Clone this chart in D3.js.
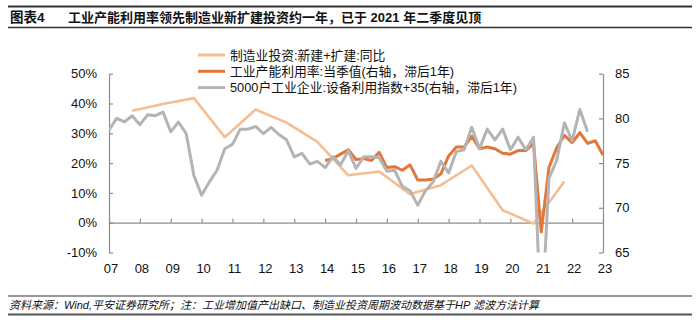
<!DOCTYPE html>
<html>
<head>
<meta charset="utf-8">
<script src="https://cdn.jsdelivr.net/npm/d3@7"></script>
<style>
  html, body { margin: 0; padding: 0; background: #fff; }
  svg { display: block; font-family: "Liberation Sans", Arial, "Noto Sans CJK SC", sans-serif; }
</style>
</head>
<body>
<div id="chart"></div>
<script>
// x轴刻度
var yearTicks = [2007, 2008, 2009, 2010, 2011, 2012, 2013, 2014, 2015, 2016, 2017, 2018, 2019, 2020, 2021, 2022, 2023]
var yearLabels = ['07', '08', '09', '10', '11', '12', '13', '14', '15', '16', '17', '18', '19', '20', '21', '22', '23']

// 制造业投资:新建+扩建:同比 (左轴, 年度)
var invDates = [2007.75, 2008.75, 2009.75, 2010.75, 2011.75, 2012.75, 2013.75, 2014.75, 2015.75, 2016.75, 2017.75, 2018.75, 2019.75, 2020.75, 2021.75]
var invValues = [37.6, 39.8, 41.8, 28.7, 38.0, 33.6, 27.1, 15.9, 17.2, 9.6, 12.6, 19.2, 4.2, -0.3, 13.8]

// 工业产能利用率:当季值 (右轴, 滞后1年, 季度, 从2014Q1开始)
var capStart = 2014
var capValues = [
  75.3, 75.5, 76.0, 76.5,
  75.4, 75.5, 75.3, 76.2,
  74.5, 74.6, 74.2, 74.8,
  73.1, 73.1, 73.2, 73.8,
  75.8, 76.8, 76.8, 78.0,
  76.6, 76.8, 76.6, 76.1,
  76.0, 76.4, 76.4, 77.2,
  67.3, 74.5, 76.7, 78.1,
  77.3, 78.4, 77.2, 77.5,
  75.9
]

// 5000户工业企业:设备利用指数+35 (右轴, 滞后1年, 季度, 从2007Q1开始)
var equipStart = 2007
var equipValues = [
  78.7, 80.0, 79.6, 80.3,
  79.3, 80.4, 80.3, 80.7,
  78.5, 79.6, 78.3, 73.6,
  71.4, 72.9, 74.2, 76.6,
  77.1, 78.8, 78.8, 79.1,
  78.3, 79.0, 78.2, 77.6,
  75.7, 76.1, 74.9, 75.2,
  74.5, 75.7, 74.8, 76.4,
  74.4, 75.7, 75.7, 75.6,
  74.1, 74.2, 72.4, 71.9,
  70.3, 71.9, 72.9, 75.2,
  73.9, 76.3, 76.5, 79.0,
  76.6, 78.8, 77.6, 78.8,
  76.5, 77.9, 76.5, 77.9,
  56.5, 73.3, 75.3, 79.5,
  77.5, 81.0, 78.5
]

var leftTicks = [-10, 0, 10, 20, 30, 40, 50]
var rightTicks = [65, 70, 75, 80, 85]

var seriesNames = ['制造业投资:新建+扩建:同比', '工业产能利用率:当季值(右轴，滞后1年)', '5000户工业企业:设备利用指数+35(右轴，滞后1年)']
var seriesColors = ['#f5bd92', '#e1773a', '#b4b4b4']

function drawChart() {
  var width = 700
  var height = 322
  var left = 109
  var right = 603
  var top = 73.7
  var bottom = 252.5
  var axisColor = '#8c8c8c'

  var svg = d3.select('#chart').append('svg').attr('width', width).attr('height', height)

  // 标题
  svg.append('line').attr('x1', 8).attr('x2', 692).attr('y1', 6.5).attr('y2', 6.5)
    .attr('stroke', '#333').attr('stroke-width', 2)
  svg.append('line').attr('x1', 8).attr('x2', 692).attr('y1', 27.5).attr('y2', 27.5)
    .attr('stroke', '#333').attr('stroke-width', 1.5)
  svg.append('text').text('图表4').attr('x', 10).attr('y', 22)
    .attr('font-size', 13.5).attr('font-weight', 'bold').attr('fill', '#111')
  svg.append('text').text('工业产能利用率领先制造业新扩建投资约一年，已于 2021 年二季度见顶')
    .attr('x', 68).attr('y', 22)
    .attr('font-size', 13).attr('font-weight', 'bold').attr('fill', '#111')

  var x = d3.scaleLinear().domain([2007, 2023]).range([left, right])
  var yL = d3.scaleLinear().domain([-10, 50]).range([bottom, top])
  var yR = d3.scaleLinear().domain([65, 85]).range([bottom, top])

  svg.append('clipPath').attr('id', 'plotClip').append('rect')
    .attr('x', left).attr('y', top).attr('width', right - left).attr('height', bottom - top)

  // 左轴
  var axisLeft = d3.axisLeft(yL).tickValues(leftTicks).tickFormat(function(d) { return d + '%' })
    .tickSizeInner(-4).tickSizeOuter(0).tickPadding(12)
  var gl = svg.append('g').attr('transform', `translate(${left}, 0)`).call(axisLeft)
  gl.select('.domain').attr('stroke', axisColor).attr('stroke-width', 1.2)
  gl.selectAll('.tick line').attr('stroke', axisColor).attr('stroke-width', 1.2)
  gl.selectAll('text').attr('font-size', 13).attr('fill', '#111')
    .attr('font-family', '"Liberation Sans", Arial, sans-serif')

  // 右轴
  var axisRight = d3.axisRight(yR).tickValues(rightTicks)
    .tickSizeInner(-4).tickSizeOuter(0).tickPadding(12)
  var gr = svg.append('g').attr('transform', `translate(${right}, 0)`).call(axisRight)
  gr.select('.domain').attr('stroke', axisColor).attr('stroke-width', 1.2)
  gr.selectAll('.tick line').attr('stroke', axisColor).attr('stroke-width', 1.2)
  gr.selectAll('text').attr('font-size', 13).attr('fill', '#111')
    .attr('font-family', '"Liberation Sans", Arial, sans-serif')

  // x轴 (在0%处)
  var axisBottom = d3.axisBottom(x).tickValues(yearTicks).tickFormat('')
    .tickSizeInner(-4).tickSizeOuter(0)
  var gx = svg.append('g').attr('transform', `translate(0, ${yL(0)})`).call(axisBottom)
  gx.select('.domain').attr('stroke', axisColor).attr('stroke-width', 1.2)
  gx.selectAll('.tick line').attr('stroke', axisColor).attr('stroke-width', 1.2)

  // x轴标签 (底部)
  svg.append('g').selectAll('text').data(yearTicks).enter().append('text')
    .text(function(d, i) { return yearLabels[i] })
    .attr('x', function(d) { return x(d) + 2 })
    .attr('y', bottom + 20)
    .attr('text-anchor', 'middle')
    .attr('font-size', 13).attr('fill', '#111')

  // 折线
  var plot = svg.append('g').attr('clip-path', 'url(#plotClip)')

  var invData = invDates.map(function(d, i) { return [d, invValues[i]] })
  var capData = capValues.map(function(v, i) { return [capStart + i / 4, v] })
  var equipData = equipValues.map(function(v, i) { return [equipStart + i / 4, v] })

  var lineL = d3.line().x(function(d) { return x(d[0]) }).y(function(d) { return yL(d[1]) })
  var lineR = d3.line().x(function(d) { return x(d[0]) }).y(function(d) { return yR(d[1]) })

  plot.append('path').attr('d', lineL(invData)).attr('fill', 'none')
    .attr('stroke', seriesColors[0]).attr('stroke-width', 2.6).attr('stroke-linejoin', 'round')
  plot.append('path').attr('d', lineR(capData)).attr('fill', 'none')
    .attr('stroke', seriesColors[1]).attr('stroke-width', 3).attr('stroke-linejoin', 'round')
  plot.append('path').attr('d', lineR(equipData)).attr('fill', 'none')
    .attr('stroke', seriesColors[2]).attr('stroke-width', 3).attr('stroke-linejoin', 'round')

  // 图例
  var legend = svg.append('g').selectAll('g').data(seriesNames).enter().append('g')
    .attr('transform', function(d, i) { return `translate(198, ${55 + i * 16.3})` })
  legend.append('line').attr('x1', 0).attr('x2', 27).attr('y1', 0).attr('y2', 0)
    .attr('stroke', function(d, i) { return seriesColors[i] }).attr('stroke-width', 3)
  legend.append('text').text(function(d) { return d })
    .attr('x', 32).attr('y', 4.5).attr('font-size', 12.8).attr('fill', '#111')

  // 资料来源
  svg.append('line').attr('x1', 8).attr('x2', 692).attr('y1', 296).attr('y2', 296)
    .attr('stroke', '#333').attr('stroke-width', 1.2)
  svg.append('text').text('资料来源：Wind,平安证券研究所；注：工业增加值产出缺口、制造业投资周期波动数据基于HP 滤波方法计算')
    .attr('x', 9).attr('y', 308.5).attr('font-size', 11).attr('font-style', 'italic').attr('fill', '#111')
  svg.append('line').attr('x1', 8).attr('x2', 692).attr('y1', 314.5).attr('y2', 314.5)
    .attr('stroke', '#555').attr('stroke-width', 2)
}

drawChart()
</script>
</body>
</html>
